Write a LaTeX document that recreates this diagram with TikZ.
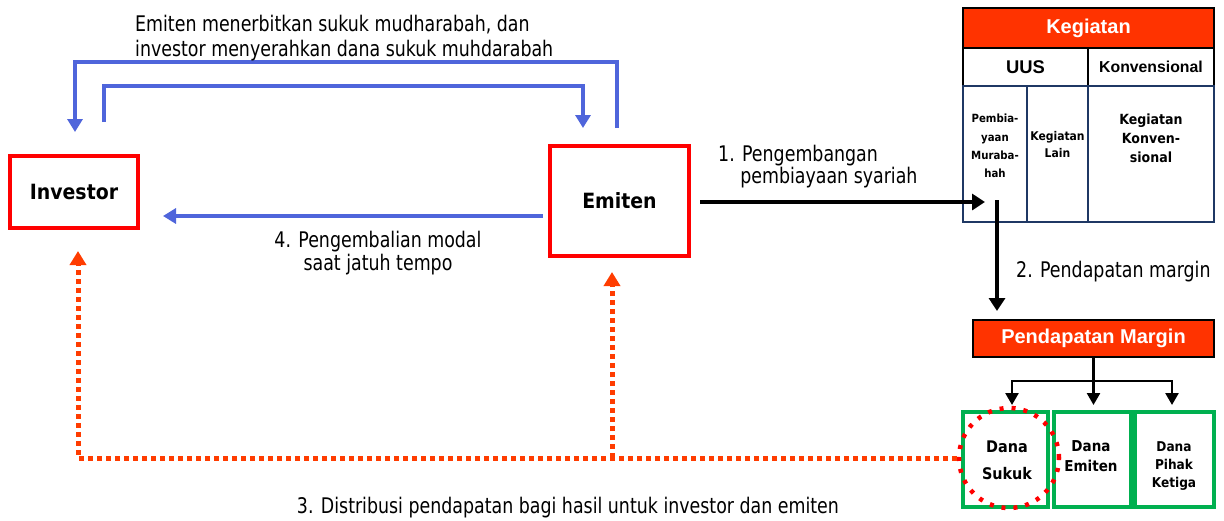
\documentclass[tikz,border=0pt]{standalone}
\usepackage{fontspec}
\setmainfont{DejaVu Sans Condensed}
\newfontfamily\hdfont{Liberation Sans}
\newfontfamily\lblfont[FakeStretch=0.9]{DejaVu Sans Condensed}
\usetikzlibrary{arrows.meta,calc}
\definecolor{flowblue}{RGB}{79,101,219}
\definecolor{boxred}{RGB}{255,0,0}
\definecolor{hdred}{RGB}{255,51,0}
\definecolor{dotorange}{RGB}{255,60,0}
\definecolor{cellnavy}{RGB}{31,56,100}
\definecolor{boxgreen}{RGB}{0,176,80}
\begin{document}
\begin{tikzpicture}[x=1pt,y=-1pt,
  party/.style={draw=boxred,line width=4pt,fill=white,inner sep=0pt,font=\bfseries\fontsize{21}{24}\selectfont},
  headbox/.style={draw=black,line width=2pt,fill=hdred,text=white,inner sep=0pt,font=\hdfont\bfseries\fontsize{20}{23}\selectfont},
  subhead/.style={draw=black,line width=2pt,fill=white,inner sep=0pt,font=\hdfont\bfseries},
  cell/.style={draw=cellnavy,line width=2pt,fill=white,inner sep=0pt},
  fundbox/.style={draw=boxgreen,line width=4pt,fill=white,inner sep=0pt},
  flowlabel/.style={inner sep=0pt,align=left,font=\lblfont\fontsize{21.5}{23}\selectfont},
  celltext/.style={inner sep=0pt,align=center,font=\bfseries},
  bluearr/.style={draw=flowblue,line width=4pt,-{Triangle[width=15pt,length=13pt]}},
  blackarr/.style={draw=black,line width=4pt,-{Triangle[width=16pt,length=13pt]}},
  branch/.style={draw=black,line width=2.5pt,-{Triangle[width=13pt,length=12pt]}},
  dotline/.style={draw=dotorange,line width=5pt,dash pattern=on 5pt off 4pt},
  dotarr/.style={dotline,-{Triangle[width=16pt,length=14pt,fill=dotorange]}}
]
\useasboundingbox (0,0) rectangle (1224,520);

% the two parties
\node[party,minimum width=128pt,minimum height=72pt] (investor) at (74,192) {Investor};
\node[party,minimum width=139pt,minimum height=110pt] (emiten) at (619.5,200.5) {Emiten};

% activity table
\node[headbox,minimum width=251pt,minimum height=40pt] (kegiatan) at (1088.5,28) {Kegiatan};
\node[subhead,minimum width=125pt,minimum height=38pt,font=\hdfont\bfseries\fontsize{18.4}{21}\selectfont] (uus) at (1025.5,67) {UUS};
\node[subhead,minimum width=126pt,minimum height=38pt,font=\hdfont\bfseries\fontsize{15.8}{18}\selectfont] (konv) at (1151,67) {Konvensional};
\node[cell,minimum width=64pt,minimum height=136pt] (murabahah) at (995,154) {};
\node[cell,minimum width=61pt,minimum height=136pt] (lain) at (1057.5,154) {};
\node[cell,minimum width=126pt,minimum height=136pt] (konvcell) at (1151,154) {};
\node[celltext,font=\bfseries\fontsize{11.3}{18.3}\selectfont,anchor=north] (tmurabahah) at (995,114) {Pembia-\\yaan\\Muraba-\\hah};
\node[celltext,font=\bfseries\fontsize{12}{17}\selectfont,anchor=north] (tlain) at (1057.5,131) {Kegiatan\\Lain};
\node[celltext,font=\bfseries\fontsize{14}{19}\selectfont,anchor=north] (tkonv) at (1151,114) {Kegiatan\\Konven-\\sional};

% margin income and its distribution
\node[headbox,minimum width=241pt,minimum height=37pt] (pmargin) at (1093.5,338.5) {Pendapatan Margin};
\node[fundbox,minimum width=85pt,minimum height=95pt] (dsukuk) at (1005.5,459.5) {};
\node[fundbox,minimum width=77pt,minimum height=95pt] (demiten) at (1092.5,459.5) {};
\node[fundbox,minimum width=79pt,minimum height=95pt] (dpihak) at (1174.5,459.5) {};
\node[celltext,font=\bfseries\fontsize{16}{27}\selectfont] (tsukuk) at (1007,460) {Dana\\Sukuk};
\node[celltext,font=\bfseries\fontsize{15}{20}\selectfont] (temiten) at (1091,456) {Dana\\Emiten};
\node[celltext,font=\bfseries\fontsize{13.5}{18}\selectfont] (tpihak) at (1174,466) {Dana\\Pihak\\Ketiga};
\node[circle,draw=red,line width=4.5pt,dash pattern=on 4pt off 8pt,minimum size=100pt,inner sep=0pt] (sukring) at (1009,458) {};

% issuance and fund handover
\coordinate (outerstart) at (617,128);
\coordinate (outertip) at (75,132);
\coordinate (innerstart) at (104,122);
\coordinate (innertip) at (583,128);
\draw[bluearr] (outerstart) -- ++(0,-66) -| (outertip);
\draw[bluearr] (innerstart) -- ++(0,-36) -| (innertip);
\node[flowlabel,anchor=base west,font=\lblfont\fontsize{21.5}{25}\selectfont] (lbltop) at (135,56) {Emiten menerbitkan sukuk mudharabah, dan\\investor menyerahkan dana sukuk muhdarabah};

% repayment of capital
\coordinate (rettip) at (163,216);
\draw[bluearr] ([xshift=-5pt]emiten.west |- rettip) -- (rettip);
\node[flowlabel,align=center,anchor=base] (lblret) at (378,270) {4. Pengembalian modal\\saat jatuh tempo};

% step 1
\coordinate (s1tip) at (985,202);
\draw[blackarr] ([xshift=9pt]emiten.east |- s1tip) -- (s1tip);
\node[flowlabel,anchor=base west,font=\lblfont\fontsize{21.5}{22}\selectfont] (lbls1) at (718,183) {1. Pengembangan\\\phantom{1.\ }pembiayaan syariah};

% step 2
\coordinate (s2start) at (997,200);
\draw[blackarr] (s2start) -- ([yshift=8pt]pmargin.north -| s2start);
\node[flowlabel,anchor=base west] (lbls2) at (1016,277) {2. Pendapatan margin};

% split of margin income
\coordinate (split) at (1093.5,381);
\draw[draw=black,line width=2.5pt] (pmargin.south) -- (split);
\draw[branch] (split) -| ([yshift=5pt]dsukuk.north -| 1012,0);
\draw[branch] (split) -- ([yshift=5pt]demiten.north -| split);
\draw[branch] (split) -| ([yshift=5pt]dpihak.north -| 1172,0);

% step 3: profit distribution
\coordinate (invtip) at (78,251);
\coordinate (emitip) at (612,272);
\draw[dotarr] (sukring.west) -| (invtip);
\draw[dotarr] (sukring.west -| emitip) -- (emitip);
\node[flowlabel,anchor=base] (lbls3) at (568,513) {3. Distribusi pendapatan bagi hasil untuk investor dan emiten};
\end{tikzpicture}
\end{document}
